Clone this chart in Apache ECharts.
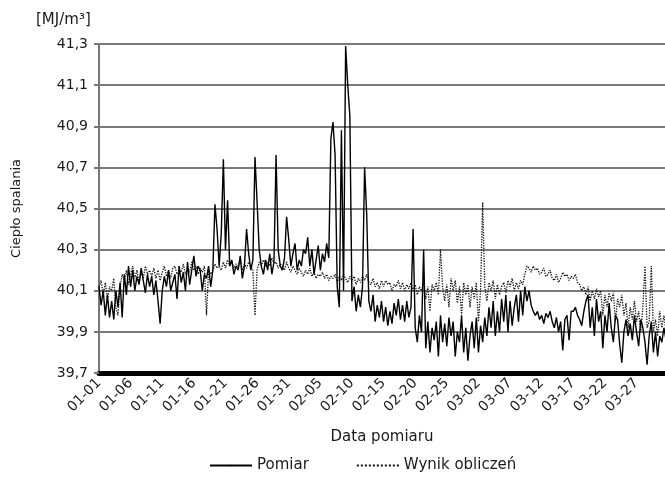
<!DOCTYPE html>
<html lang="pl">
<head>
<meta charset="UTF-8">
<title>Ciepło spalania</title>
<script src="https://cdn.jsdelivr.net/npm/echarts@6.0.0/dist/echarts.min.js"></script>
<style>
  html, body { margin: 0; padding: 0; background: #fff; }
  #main { width: 665px; height: 481px; }
</style>
</head>
<body>
<div id="main"></div>
<script>
// 3 odczyty na dobę, od 01-01 do 03-31
var POINTS_PER_DAY = 3;

var dateTicks = ['01-01', '01-06', '01-11', '01-16', '01-21', '01-26', '01-31', '02-05', '02-10',
                 '02-15', '02-20', '02-25', '03-02', '03-07', '03-12', '03-17', '03-22', '03-27'];
var valueTicks = ['39,7', '39,9', '40,1', '40,3', '40,5', '40,7', '40,9', '41,1', '41,3'];
var yBase = 39.7;

var pomiar = [
  40.12, 40.03, 40.10,  39.98, 40.08, 39.97,  40.05, 39.96, 40.10,  40.02, 40.14, 39.97,
  40.18, 40.08, 40.22,  40.12, 40.20, 40.10,  40.17, 40.13, 40.21,  40.15, 40.09, 40.18,
  40.12, 40.17, 40.08,  40.15, 40.05, 39.94,  40.10, 40.17, 40.12,  40.20, 40.10, 40.14,
  40.18, 40.06, 40.22,  40.14, 40.19, 40.10,  40.24, 40.13, 40.20,  40.27, 40.17, 40.22,
  40.20, 40.10, 40.18,  40.16, 40.22, 40.12,  40.20, 40.52, 40.40,  40.22, 40.38, 40.74,
  40.30, 40.54, 40.22,  40.25, 40.18, 40.22,  40.20, 40.27, 40.16,  40.22, 40.40, 40.28,
  40.20, 40.25, 40.75,  40.53, 40.30, 40.22,  40.18, 40.25, 40.20,  40.28, 40.18, 40.24,
  40.76, 40.30, 40.22,  40.20, 40.26, 40.46,  40.35, 40.22, 40.28,  40.33, 40.20, 40.25,
  40.22, 40.30, 40.28,  40.36, 40.22, 40.30,  40.18, 40.25, 40.32,  40.20, 40.28, 40.24,
  40.33, 40.26, 40.84,  40.92, 40.76, 40.12,  40.02, 40.88, 40.10,  41.29, 41.10, 40.95,
  40.05, 40.12, 40.00,  40.08, 40.02, 40.12,  40.70, 40.47, 40.05,  40.00, 40.08, 39.95,
  40.03, 39.97, 40.05,  39.95, 40.02, 39.93,  40.00, 39.94, 40.04,  39.98, 40.06, 39.96,
  40.03, 39.95, 40.05,  39.97, 40.02, 40.40,  39.92, 39.85, 39.98,  39.90, 40.30, 39.82,
  39.95, 39.80, 39.92,  39.86, 39.95, 39.78,  39.98, 39.85, 39.94,  39.83, 39.97, 39.88,
  39.95, 39.78, 39.90,  39.85, 39.98, 39.80,  39.92, 39.76, 39.88,  39.95, 39.82, 39.97,
  39.80, 39.93, 39.85,  39.97, 39.88, 40.02,  39.92, 40.05, 39.88,  40.00, 39.90, 40.06,
  39.95, 40.08, 39.90,  40.05, 39.93, 40.02,  40.08, 39.95, 40.10,  39.98, 40.12, 40.05,
  40.10, 40.03, 40.00,  39.98, 40.00, 39.96,  39.98, 39.94, 39.99,  39.97, 40.00, 39.95,
  39.92, 39.97, 39.90,  39.95, 39.81, 39.96,  39.98, 39.86, 40.00,  40.00, 40.02, 39.98,
  39.96, 39.93, 40.00,  40.05, 40.08, 39.92,  40.02, 39.88, 40.06,  39.95, 40.00, 39.82,
  39.98, 39.90, 40.04,  39.92, 39.85, 39.98,  39.96, 39.84, 39.75,  39.90, 39.96, 39.88,
  39.94, 39.86, 39.98,  39.90, 39.83, 39.96,  39.92, 39.85, 39.74,  39.88, 39.95, 39.80,
  39.90, 39.78, 39.88,  39.85, 39.92, 39.86
];

var wynik = [
  40.12, 40.15, 40.08,  40.14, 40.06, 40.12,  40.10, 40.16, 40.02,  39.98, 40.12, 40.18,
  40.15, 40.20, 40.13,  40.18, 40.22, 40.16,  40.20, 40.14, 40.19,  40.16, 40.22, 40.18,
  40.20, 40.17, 40.21,  40.16, 40.20, 40.15,  40.19, 40.22, 40.17,  40.20, 40.16, 40.21,
  40.22, 40.18, 40.20,  40.19, 40.23, 40.18,  40.21, 40.19, 40.24,  40.20, 40.22, 40.18,
  40.21, 40.19, 40.22,  39.98, 40.20, 40.18,  40.20, 40.23, 40.21,  40.22, 40.20, 40.24,
  40.21, 40.25, 40.22,  40.24, 40.21, 40.23,  40.22, 40.25, 40.20,  40.23, 40.21, 40.24,
  40.22, 40.20, 39.98,  40.20, 40.24, 40.22,  40.25, 40.22, 40.24,  40.22, 40.26, 40.23,
  40.24, 40.21, 40.23,  40.22, 40.20, 40.24,  40.21, 40.19, 40.22,  40.20, 40.18, 40.21,
  40.19, 40.17, 40.20,  40.18, 40.21, 40.17,  40.19, 40.16, 40.18,  40.17, 40.19, 40.16,
  40.18, 40.15, 40.17,  40.16, 40.18, 40.14,  40.17, 40.15, 40.18,  40.16, 40.14, 40.17,
  40.15, 40.17, 40.13,  40.16, 40.14, 40.17,  40.15, 40.18, 40.14,  40.13, 40.16, 40.12,
  40.14, 40.11, 40.15,  40.12, 40.15, 40.13,  40.14, 40.10, 40.13,  40.12, 40.15, 40.11,
  40.14, 40.10, 40.13,  40.11, 40.14, 40.10,  40.13, 40.08, 40.12,  40.10, 40.14, 40.06,
  40.12, 40.00, 40.13,  40.10, 40.14, 40.08,  40.30, 40.12, 40.05,  40.13, 40.02, 40.16,
  40.10, 40.15, 40.04,  40.12, 39.98, 40.14,  40.08, 40.13, 40.02,  40.12, 40.06, 40.14,
  39.95, 40.10, 40.53,  40.12, 40.05, 40.14,  40.10, 40.15, 40.06,  40.13, 40.08, 40.12,
  40.14, 40.09, 40.15,  40.12, 40.16, 40.10,  40.14, 40.11, 40.15,  40.13, 40.18, 40.22,
  40.21, 40.19, 40.22,  40.20, 40.21, 40.18,  40.19, 40.21, 40.17,  40.18, 40.20, 40.16,
  40.15, 40.18, 40.14,  40.16, 40.19, 40.17,  40.18, 40.15, 40.17,  40.16, 40.18, 40.14,
  40.13, 40.10, 40.12,  40.08, 40.12, 40.05,  40.10, 40.06, 40.11,  40.07, 40.10, 39.98,
  40.08, 40.02, 40.09,  40.05, 40.09, 39.95,  40.06, 40.02, 40.08,  39.98, 40.04, 39.92,
  40.02, 39.96, 40.05,  39.95, 40.00, 39.90,  40.02, 40.22, 39.92,  39.95, 40.22, 39.90,
  39.96, 39.88, 40.00,  39.92, 39.98, 39.90
];

function toPoints(values) {
  return values.map(function (v, i) {
    return [i / POINTS_PER_DAY, +(v - yBase).toFixed(3)];
  });
}

var FONT = 'DejaVu Sans';
var TXT = '#1a1a1a';

var chart = echarts.init(document.getElementById('main'), null, { renderer: 'canvas' });

chart.setOption({
  animation: false,
  backgroundColor: '#fff',
  title: {
    text: '[MJ/m³]',
    left: 31,
    top: 8,
    textStyle: { fontFamily: FONT, fontSize: 15, fontWeight: 'normal', color: TXT }
  },
  legend: {
    data: ['Pomiar', 'Wynik obliczeń'],
    left: 204,
    bottom: 3,
    itemWidth: 42,
    itemHeight: 2,
    itemGap: 47,
    textStyle: { fontFamily: FONT, fontSize: 15, color: TXT }
  },
  grid: { left: 99, right: 0, top: 44, bottom: 108 },
  xAxis: {
    type: 'value',
    min: 0,
    max: 89.5,
    interval: 5,
    name: 'Data pomiaru',
    nameLocation: 'middle',
    nameGap: 57,
    nameTextStyle: { fontFamily: FONT, fontSize: 15, color: TXT },
    axisLine: { show: true, onZero: false, lineStyle: { color: '#000', width: 5 } },
    axisTick: { show: false },
    splitLine: { show: false },
    axisLabel: {
      rotate: 45,
      margin: 8,
      showMaxLabel: false,
      fontFamily: FONT,
      fontSize: 14,
      color: TXT,
      formatter: function (v) {
        var k = Math.round(v / 5);
        return Math.abs(v - k * 5) < 1e-6 ? (dateTicks[k] || '') : '';
      }
    }
  },
  yAxis: {
    type: 'value',
    min: 0,
    max: 1.6,
    interval: 0.2,
    name: 'Ciepło spalania',
    nameLocation: 'middle',
    nameGap: 76,
    nameTextStyle: { fontFamily: FONT, fontSize: 13, color: TXT },
    axisLine: { show: true, lineStyle: { color: '#777', width: 2 } },
    axisTick: { show: true, length: 5, lineStyle: { color: '#777', width: 2 } },
    splitLine: { show: true, lineStyle: { color: '#7a7a7a', width: 2 } },
    axisLabel: {
      margin: 11,
      fontFamily: FONT,
      fontSize: 14,
      color: TXT,
      formatter: function (v) {
        return valueTicks[Math.round(v / 0.2)];
      }
    }
  },
  series: [
    {
      name: 'Wynik obliczeń',
      type: 'line',
      symbol: 'none',
      z: 2,
      lineStyle: { color: '#111', width: 1.3, type: 'dotted' },
      itemStyle: { color: '#111' },
      data: toPoints(wynik)
    },
    {
      name: 'Pomiar',
      type: 'line',
      symbol: 'none',
      z: 3,
      lineStyle: { color: '#000', width: 1.4 },
      itemStyle: { color: '#000' },
      data: toPoints(pomiar)
    }
  ]
});
</script>
</body>
</html>
